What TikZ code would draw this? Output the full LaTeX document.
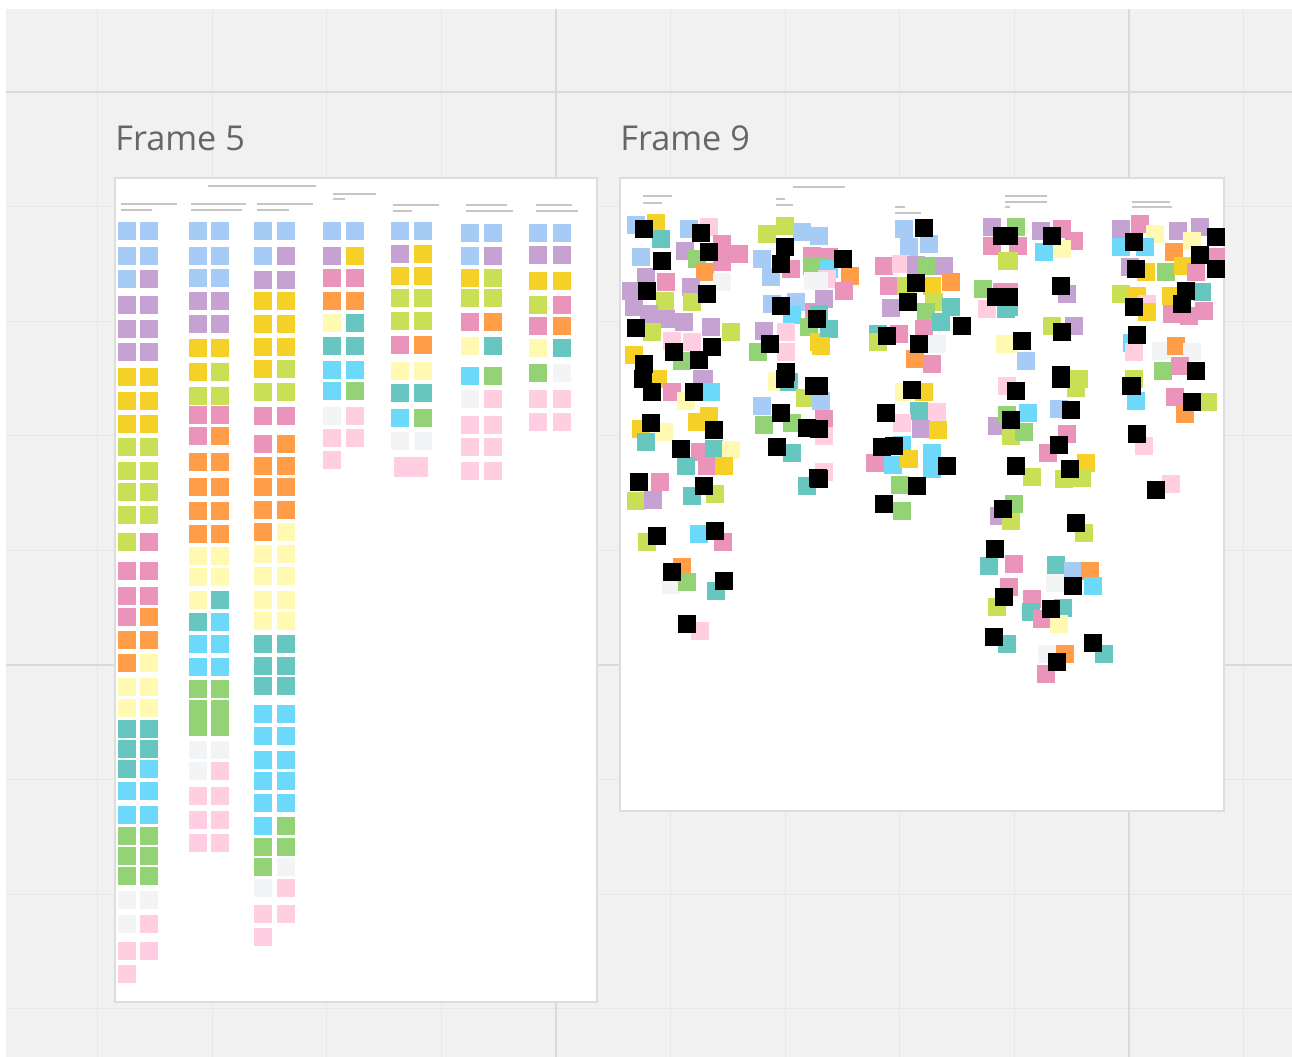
\documentclass[tikz,border=0pt]{standalone}
\usepackage{fontspec}
\setsansfont{Open Sans}
\usepackage{tikz}
\usetikzlibrary{positioning,calc}
\definecolor{BoardGray}{HTML}{F1F1F1}
\definecolor{GridMinor}{HTML}{E7E7E7}
\definecolor{GridMajor}{HTML}{DADADA}
\definecolor{FrameLine}{HTML}{DDDDDD}
\definecolor{BarGray}{HTML}{C6C6C6}
\definecolor{TitleGray}{HTML}{666666}
\definecolor{stkB}{HTML}{A6CCF5}
\definecolor{stkV}{HTML}{C6A2D2}
\definecolor{stkY}{HTML}{F5D128}
\definecolor{stkL}{HTML}{C9DF56}
\definecolor{stkP}{HTML}{EA94BB}
\definecolor{stkO}{HTML}{FF9D48}
\definecolor{stkLY}{HTML}{FFF9B1}
\definecolor{stkT}{HTML}{67C6C0}
\definecolor{stkC}{HTML}{6CD8FA}
\definecolor{stkG}{HTML}{93D275}
\definecolor{stkW}{HTML}{F3F4F6}
\definecolor{stkLP}{HTML}{FFCEE0}
\definecolor{stkK}{HTML}{000000}
\definecolor{stkN}{HTML}{FFFFFF}
\tikzset{
	minor/.style={draw=GridMinor,line width=0.6pt},
	major/.style={draw=GridMajor,line width=1.1pt},
	frm/.style={draw=FrameLine,fill=white,line width=0.8pt},
	bar/.style={draw=BarGray,line width=1.5pt},
	title/.style={font=\sffamily\fontsize{19.5}{23}\selectfont,text=TitleGray,inner sep=0pt,anchor=base west},
}
\begin{document}
\begin{tikzpicture}[x=0.02cm,y=-0.02cm]
	\useasboundingbox (0,0) rectangle (1292,1057);
	% board
	\fill[white] (0,0) rectangle (1292,1057);
	\fill[BoardGray] (6,9) rectangle (1292,1057);
	\foreach \gx in {97.6,212.2,326.8,441.4,670.6,785.2,899.8,1014.4,1243.6}
		\draw[minor] (\gx,9) -- (\gx,1057);
	\foreach \gy in {206.6,321.2,435.8,550.4,779.6,894.2,1008.8}
		\draw[minor] (6,\gy) -- (1292,\gy);
	\foreach \gx in {556,1129}
		\draw[major] (\gx,9) -- (\gx,1057);
	\foreach \gy in {92,665}
		\draw[major] (6,\gy) -- (1292,\gy);

	% frames
	\draw[frm] (115,178) rectangle (597,1002);
	\draw[frm] (620,178) rectangle (1224,811);
	\node[title] (f5title) at (115,151) {Frame 5};
	\node[title] (f9title) at (620,151) {Frame 9};

	% frame 5 headings
	\draw[bar] (208,186) -- (316,186);
	\draw[bar] (121,204) -- (177,204);
	\draw[bar] (121,210) -- (152,210);
	\draw[bar] (191,204) -- (246,204);
	\draw[bar] (191,210) -- (242,210);
	\draw[bar] (257,204) -- (313,204);
	\draw[bar] (257,210) -- (289,210);
	\draw[bar] (333,194) -- (376,194);
	\draw[bar] (333,199) -- (345,199);
	\draw[bar] (393,205) -- (439,205);
	\draw[bar] (393,211) -- (412,211);
	\draw[bar] (466,205) -- (507,205);
	\draw[bar] (466,211) -- (513,211);
	\draw[bar] (536,205) -- (572,205);
	\draw[bar] (536,211) -- (578,211);

	% frame 5 columns of stickies
	\foreach \y/\a/\b in {222/B/B,247/B/B,270/B/V,296/V/V,320/V/V,343/V/V,368/Y/Y,392/Y/Y,415/Y/Y,
		438/L/L,462/L/L,483/L/L,506/L/L,533/L/P,562/P/P,587/P/P,608/P/O,631/O/O,654/O/LY,678/LY/LY,
		699/LY/LY,720/T/T,740/T/T,760/T/C,782/C/C,806/C/C,827/G/G,847/G/G,867/G/G,891/W/W,915/W/LP,
		942/LP/LP,965/LP/N}{
		\fill[fill=stk\a] (118,\y) rectangle ++(18,18);
		\fill[fill=stk\b] (140,\y) rectangle ++(18,18);
	}
	\foreach \y/\a/\b in {222/B/B,247/B/B,269/B/B,292/V/V,315/V/V,339/Y/Y,363/Y/L,387/L/L,406/P/P,
		427/P/O,453/O/O,478/O/O,502/O/O,525/O/O,547/LY/LY,568/LY/LY,591/LY/T,613/T/C,635/C/C,658/C/C,
		680/G/G,700/G/G,718/G/G,741/W/W,762/W/LP,787/LP/LP,811/LP/LP,834/LP/LP}{
		\fill[fill=stk\a] (189,\y) rectangle ++(18,18);
		\fill[fill=stk\b] (211,\y) rectangle ++(18,18);
	}
	\foreach \y/\a/\b in {222/B/B,247/B/V,271/V/V,292/Y/Y,315/Y/Y,338/Y/Y,360/Y/L,383/L/L,407/P/P,
		435/P/O,457/O/O,478/O/O,501/O/O,523/O/LY,545/LY/LY,567/LY/LY,591/LY/LY,612/LY/LY,635/T/T,
		657/T/T,677/T/T,705/C/C,727/C/C,751/C/C,772/C/C,794/C/C,817/C/G,838/G/G,858/G/W,879/W/LP,
		905/LP/LP,928/LP/N}{
		\fill[fill=stk\a] (254,\y) rectangle ++(18,18);
		\fill[fill=stk\b] (277,\y) rectangle ++(18,18);
	}
	\foreach \y/\a/\b in {222/B/B,247/V/Y,269/P/P,292/O/O,314/LY/T,337/T/T,361/C/C,382/C/G,
		407/W/LP,429/LP/LP,451/LP/N}{
		\fill[fill=stk\a] (323,\y) rectangle ++(18,18);
		\fill[fill=stk\b] (346,\y) rectangle ++(18,18);
	}
	\foreach \y/\a/\b in {222/B/B,245/V/Y,267/Y/Y,289/L/L,312/L/L,336/P/O,362/LY/LY,384/T/T,
		409/C/G,432/W/W}{
		\fill[fill=stk\a] (391,\y) rectangle ++(18,18);
		\fill[fill=stk\b] (414,\y) rectangle ++(18,18);
	}
	\fill[fill=stkLP] (394,457) rectangle ++(34,20);
	\foreach \y/\a/\b in {224/B/B,247/B/V,269/Y/L,289/L/L,313/P/O,337/LY/T,367/C/G,390/W/LP,
		416/LP/LP,438/LP/LP,462/LP/LP}{
		\fill[fill=stk\a] (461,\y) rectangle ++(18,18);
		\fill[fill=stk\b] (484,\y) rectangle ++(18,18);
	}
	\foreach \y/\a/\b in {224/B/B,246/V/V,272/Y/Y,296/L/P,317/P/O,339/LY/T,364/G/W,390/LP/LP,
		413/LP/LP}{
		\fill[fill=stk\a] (529,\y) rectangle ++(18,18);
		\fill[fill=stk\b] (553,\y) rectangle ++(18,18);
	}

	% frame 9 headings
	\draw[bar] (643,196) -- (672,196);
	\draw[bar] (643,203) -- (662,203);
	\draw[bar] (776,199) -- (785,199);
	\draw[bar] (776,205) -- (793,205);
	\draw[bar] (793,187) -- (845,187);
	\draw[bar] (895,207) -- (905,207);
	\draw[bar] (895,213) -- (921,213);
	\draw[bar] (1005,196) -- (1047,196);
	\draw[bar] (1005,202) -- (1047,202);
	\draw[bar] (1005,207) -- (1010,207);
	\draw[bar] (1132,202) -- (1170,202);
	\draw[bar] (1132,207) -- (1172,207);

	% frame 9 scattered stickies
	\foreach \x/\y/\c in {627/216/B,647/214/Y,652/230/T,632/248/B,637/268/V,657/273/P,622/282/V,
		656/292/L,625/298/V,640/305/V,657/310/V,643/323/L,680/220/B,700/218/LP,676/242/V,688/250/G,
		713/235/P,730/245/P,713/253/P,696/263/O,713/273/W,682/278/V,683/293/L,675/313/V,702/318/V,
		722/323/L,663/332/LP,683/333/LP,673/352/G,695/370/V,625/346/Y,649/370/Y,758/225/L,776/217/L,
		753/250/B,762/268/B,793/223/B,810/227/B,803/247/P,782/260/P,803/257/G,804/272/W,763/295/B,
		787/293/B,783/306/C,805/303/P,755/322/V,800/318/G,777/323/LP,749/343/G,777/343/LP,770/372/LY,
		810/333/Y,
		895/220/B,900/238/B,920/235/B,810/248/P,820/248/P,810/257/G,820/260/C,818/270/LP,841/267/O,
		810/272/W,835/282/P,815/290/V,875/257/P,892/255/LP,907/256/V,918/257/G,935/257/V,880/277/P,
		897/277/L,923/277/Y,942/273/O,925/293/L,882/299/V,917/303/G,942/298/T,915/320/P,932/313/T,
		869/325/T,869/333/L,890/325/P,928/335/W,906/350/O,923/355/P,810/305/T,820/320/T,812/337/Y,
		983/218/V,1007/218/G,983/237/P,998/252/L,974/280/G,993/283/P,978/300/LP,997/300/T,996/335/LY,
		1009/237/P,1000/252/L,1032/222/V,1053/220/P,1065/232/P,1035/243/C,1053/240/LY,1058/285/V,
		1000/283/P,1000/298/T,1043/317/L,1065/317/V,1000/335/LY,1017/352/B,1070/370/L,1112/220/V,
		1131/215/P,1146/225/LY,1169/222/V,1191/218/V,1112/238/C,1136/238/C,1183/232/LY,1165/243/O,
		1207/248/P,1121/258/V,1137/263/Y,1157/263/G,1174/257/Y,1187/263/P,1112/285/L,1128/287/Y,
		1138/295/LP,1138/303/Y,1162/287/Y,1193/283/T,1163/305/P,1180/307/P,1195/302/P,1123/334/C,
		1125/343/LP,1152/342/W,1167/337/O,1183/343/W,1154/362/G,1171/357/P,1125/370/L,
		1166/388/P,1199/393/L,1176/405/O,
		693/370/V,663/383/P,677/392/LY,702/383/C,632/420/Y,655/423/LY,637/433/T,688/413/Y,700/407/Y,
		691/443/P,705/440/T,722/441/LY,677/457/T,698/457/P,715/457/Y,651/473/P,627/492/L,644/491/V,
		683/487/T,706/485/L,638/533/L,690/525/C,714/533/P,673/558/O,662/576/W,678/573/G,707/582/T,
		691/622/LP,768/373/LY,780/373/T,796/389/L,812/392/B,753/397/B,755/416/G,783/414/G,783/444/T,
		798/477/T,
		815/410/P,815/427/LP,815/463/LP,895/383/LY,915/383/Y,910/402/T,928/403/LP,893/414/LP,
		912/420/V,929/421/Y,893/436/C,866/454/P,884/456/C,900/450/Y,923/444/C,923/460/C,891/476/G,
		893/502/G,998/377/LP,988/417/V,998/406/G,1002/427/L,990/507/V,1002/512/L,980/557/T,1005/555/P,
		1000/578/P,988/598/L,998/635/T,
		1067/379/L,1019/404/C,1015/423/G,1050/400/B,1058/425/P,1039/444/P,1023/468/L,1077/454/Y,
		1055/470/L,1073/469/L,1005/495/G,1075/524/L,1047/556/T,1064/562/B,1081/562/O,1046/574/W,
		1084/577/C,1023/590/P,1022/603/T,1033/610/P,1054/599/T,1050/615/LY,1038/645/W,1056/645/O,
		1037/665/P,1095/645/T,1125/370/L,1127/392/C,1135/437/LP,1162/475/LP}
		\fill[fill=stk\c] (\x,\y) rectangle ++(18,18);
	% black stickies on top
	\foreach \x/\y in {635/220,653/252,638/282,627/319,692/224,700/243,698/285,665/343,690/351,
		703/338,635/355,776/238,772/255,772/297,808/310,761/335,777/363,915/219,834/250,907/274,
		899/293,953/317,878/327,910/335,993/227,987/288,810/377,1000/227,1043/227,1052/277,1000/288,
		1053/323,1013/332,1052/366,1125/233,1207/228,1191/246,1207/260,1127/260,1125/298,1177/282,
		1173/295,1128/326,1187/362,1183/393,1122/377,634/370,643/383,685/383,642/414,705/421,672/440,
		630/473,695/477,648/527,706/522,663/563,715/572,678/615,776/370,805/377,772/404,798/419,
		768/438,809/469,810/420,810/470,903/381,877/404,873/438,885/437,938/457,908/477,875/495,
		1002/411,1007/457,994/500,986/540,995/588,985/628,1007/382,1052/370,1062/401,1050/436,
		1061/460,1067/514,1064/577,1042/600,1048/653,1084/634,1123/377,1128/425,1147/481}
		\fill[fill=stkK] (\x,\y) rectangle ++(18,18);
\end{tikzpicture}
\end{document}
